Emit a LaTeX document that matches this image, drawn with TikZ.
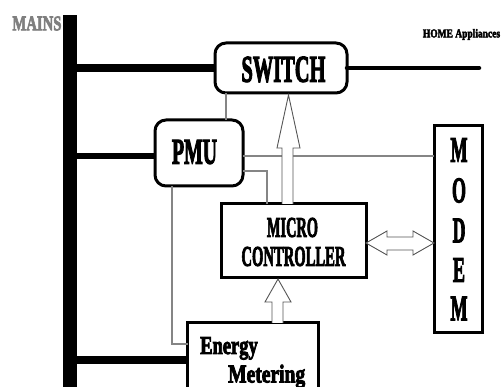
\documentclass[tikz,border=0pt]{standalone}
\usepackage{fontspec}
\usepackage{graphicx}
\setmainfont{Liberation Serif}
\newfontfamily\hv[BoldFeatures={FakeBold=3.6}]{Liberation Serif}
\newcommand{\sq}[3]{\scalebox{#1}[1]{\fontsize{#2}{#2}\selectfont\hv\bfseries #3}}
\definecolor{wire}{HTML}{858585}
\definecolor{mainsgray}{HTML}{7F7F7F}
\definecolor{arrowline}{HTML}{555555}
\tikzset{
  rbox/.style={draw=black, line width=3pt, rounded corners=11pt, fill=white},
  sbox/.style={draw=black, line width=3pt, fill=white},
  bus/.style={line width=#1, black},
  gwire/.style={draw=wire, line width=2.8pt},
  hollow/.style={draw=arrowline, line width=0.9pt, fill=white, line join=miter},
  lbl/.style={inner sep=0pt, anchor=center}
}
\begin{document}
\begin{tikzpicture}[x=1pt,y=-1pt]
\useasboundingbox (0,0) rectangle (501,387);
\clip (0,0) rectangle (501,387);

% boxes
\draw[rbox] (215,43) rectangle (347,93);
\coordinate (swW) at (215,68);
\coordinate (swE) at (347,68);
\coordinate (swS) at (226,93);
\draw[rbox] (155,120) rectangle (243,186);
\draw[sbox] (221,204) rectangle (366,278);
\draw[sbox] (434,126) rectangle (482,333);
\draw[sbox] (187,400) -- (187,323) -- (318,323) -- (318,400);

% mains bus
\fill[black] (63,15) rectangle (77,390);
\coordinate (busA) at (77,68);
\coordinate (busB) at (77,156);
\coordinate (busC) at (77,360);
\coordinate (home) at (479,68);

\draw[bus=8pt] (busA) -- (swW);
\draw[bus=4.5pt, line cap=round] (swE) -- (home);
\draw[bus=6.5pt] (busB) -- (155,156);
\draw[bus=7.5pt] (busC) -- (187,360);

% gray wires
\draw[gwire] (swS) -- (226,120);
\draw[gwire] (243,156) -- (434,156);
\draw[gwire] (243,171) -- (267,171) -- (267,204);
\draw[gwire] (172,186) -- (172,344) -- (188,344);

% hollow arrows
\draw[hollow] (282,204) -- (282,148) -- (277,148) -- (288.5,95) -- (300,148) -- (293,148) -- (293,204);
\draw[hollow] (272,323) -- (272,302) -- (265,302) -- (278,279) -- (291,302) -- (283,302) -- (283,323);
\draw[hollow] (366,243) -- (387,231) -- (387,237) -- (413,237) -- (413,231) -- (434,243)
  -- (413,255) -- (413,250) -- (387,250) -- (387,255) -- cycle;

% texts
\node[lbl, text=mainsgray] (mains) at (37,23.5) {\sq{0.7}{21pt}{MAINS}};
\node[lbl] (homeapp) at (461.5,34.5) {\sq{0.79}{12pt}{HOME Appliances}};
\node[lbl] (switch) at (283.5,69.5) {\sq{0.54}{37.8pt}{SWITCH}};
\node[lbl] (pmu) at (194.5,152) {\sq{0.545}{36.3pt}{PMU}};
\node[lbl] (micro) at (292.5,227.5) {\sq{0.5}{28.7pt}{MICRO}};
\node[lbl] (ctrl) at (293.5,256.5) {\sq{0.51}{28.7pt}{CONTROLLER}};
\node[lbl] (m1) at (459,150) {\sq{0.5}{36pt}{M}};
\node[lbl] (m2) at (459,190.5) {\sq{0.5}{36pt}{O}};
\node[lbl] (m3) at (459,230.5) {\sq{0.5}{36pt}{D}};
\node[lbl] (m4) at (459,270) {\sq{0.5}{36pt}{E}};
\node[lbl] (m5) at (459,308.5) {\sq{0.5}{36pt}{M}};
\node[inner sep=0pt, anchor=base west] (energy) at (200,354) {\sq{0.72}{25.7pt}{Energy}};
\node[inner sep=0pt, anchor=base west] (meter) at (228,382.5) {\sq{0.76}{25.7pt}{Metering}};
\end{tikzpicture}
\end{document}
